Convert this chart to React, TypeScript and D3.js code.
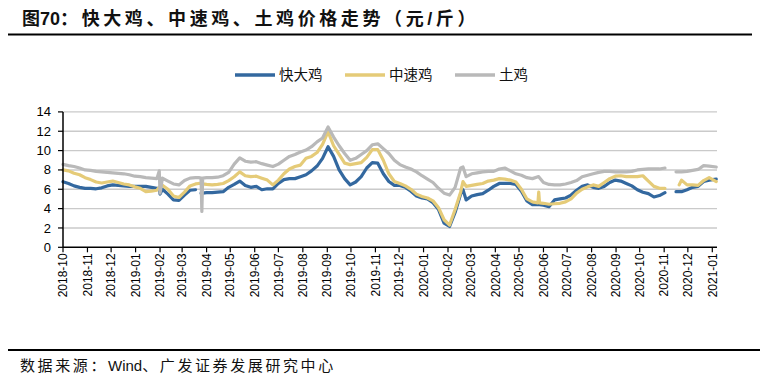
import React from "react";
import * as d3 from "d3";

const dates = [
  "2018-10-01", "2018-10-08", "2018-10-15", "2018-10-22", "2018-10-29", "2018-11-05", "2018-11-12", "2018-11-19",
  "2018-11-26", "2018-12-03", "2018-12-10", "2018-12-17", "2018-12-24", "2018-12-31", "2019-01-07", "2019-01-14",
  "2019-01-21", "2019-01-28", "2019-01-31", "2019-02-01", "2019-02-04", "2019-02-11", "2019-02-18", "2019-02-25",
  "2019-03-04", "2019-03-11", "2019-03-18", "2019-03-22", "2019-03-25", "2019-03-26", "2019-03-27", "2019-04-01",
  "2019-04-08", "2019-04-15", "2019-04-22", "2019-04-29", "2019-05-06", "2019-05-13", "2019-05-20", "2019-05-27",
  "2019-06-03", "2019-06-10", "2019-06-17", "2019-06-24", "2019-07-01", "2019-07-08", "2019-07-15", "2019-07-22",
  "2019-07-29", "2019-08-05", "2019-08-12", "2019-08-19", "2019-08-26", "2019-09-02", "2019-09-09", "2019-09-16",
  "2019-09-23", "2019-09-30", "2019-10-07", "2019-10-14", "2019-10-21", "2019-10-28", "2019-11-04", "2019-11-11",
  "2019-11-18", "2019-11-25", "2019-12-02", "2019-12-09", "2019-12-16", "2019-12-23", "2019-12-30", "2020-01-06",
  "2020-01-13", "2020-01-20", "2020-01-27", "2020-02-03", "2020-02-10", "2020-02-17", "2020-02-20", "2020-02-24",
  "2020-03-02", "2020-03-09", "2020-03-16", "2020-03-23", "2020-03-30", "2020-04-06", "2020-04-13", "2020-04-20",
  "2020-04-27", "2020-05-04", "2020-05-11", "2020-05-18", "2020-05-25", "2020-05-26", "2020-05-27", "2020-06-01",
  "2020-06-08", "2020-06-15", "2020-06-22", "2020-06-29", "2020-07-06", "2020-07-13", "2020-07-20", "2020-07-27",
  "2020-08-03", "2020-08-10", "2020-08-17", "2020-08-24", "2020-08-31", "2020-09-07", "2020-09-14", "2020-09-21",
  "2020-09-28", "2020-10-05", "2020-10-12", "2020-10-19", "2020-10-26", "2020-11-02", "2020-11-09", "2020-11-16",
  "2020-11-20", "2020-11-23", "2020-11-30", "2020-12-07", "2020-12-14", "2020-12-21", "2020-12-28", "2021-01-06",
];

// 快大鸡
const kuaida = [
  6.78, 6.6, 6.35, 6.2, 6.1, 6.1, 6.05, 6.15,
  6.35, 6.45, 6.4, 6.35, 6.3, 6.3, 6.3, 6.3,
  6.2, 6.1, 6.1, 5.5, 6.0, 5.5, 4.9, 4.85,
  5.4, 5.9, 5.95, null, 5.6, 5.6, 5.6, 5.65,
  5.65, 5.7, 5.75, 6.2, 6.5, 6.85, 6.4, 6.2,
  6.3, 5.95, 6.05, 6.05, 6.6, 7.0, 7.1, 7.1,
  7.3, 7.5, 7.9, 8.4, 9.2, 10.4, 9.4, 8.0,
  7.1, 6.45, 6.75, 7.3, 8.2, 8.75, 8.7, 7.6,
  6.8, 6.4, 6.4, 6.2, 5.8, 5.3, 5.1, 5.0,
  4.6, 3.9, 2.5, 2.15, 3.6, 5.5, 5.95, 4.9,
  5.3, 5.45, 5.55, 5.9, 6.3, 6.6, 6.6, 6.6,
  6.5, 5.8, 4.8, 4.4, 4.4, 4.4, 4.4, 4.35,
  4.2, 4.9, 5.0, 5.1, 5.4, 5.9, 6.3, 6.45,
  6.2, 6.1, 6.3, 6.7, 6.95, 6.85, 6.6, 6.35,
  5.95, 5.7, 5.55, 5.2, 5.35, 5.65, null, 5.75,
  5.75, 5.75, 5.95, 6.2, 6.3, 6.8, 6.95, 7.05,
];

// 中速鸡
const zhongsu = [
  8.0, 7.9, 7.65, 7.5, 7.2, 7.0, 6.75, 6.65,
  6.75, 6.85, 6.7, 6.55, 6.45, 6.25, 6.1, 5.75,
  5.8, 5.9, 6.2, 6.3, 6.4, 6.0, 5.3, 5.15,
  5.7, 6.35, 6.55, 6.6, 6.6, 6.6, 6.55, 6.5,
  6.45, 6.5, 6.6, 6.9, 7.3, 7.8, 7.4, 7.3,
  7.35, 7.15, 6.95, 6.45, 6.95, 7.6, 8.1, 8.35,
  8.5, 9.2, 9.4, 9.8, 10.65, 11.95, 10.5, 9.6,
  8.7, 8.55, 8.65, 8.75, 9.3, 10.1, 10.1, 9.0,
  7.6, 6.8, 6.6, 6.35, 6.0, 5.5, 5.25, 5.1,
  4.8, 4.1, 2.85, 2.3, 3.9, 5.7, 6.8, 6.3,
  6.4, 6.5, 6.6, 6.85, 6.95, 7.1, 7.05, 6.95,
  6.75, 6.0, 5.0, 4.7, 4.6, 5.7, 4.6, 4.55,
  4.45, 4.5, 4.55, 4.7, 5.0, 5.6, 6.0, 6.25,
  6.45, 6.3, 6.7, 7.1, 7.35, 7.4, 7.3, 7.3,
  7.3, 7.4, 6.85, 6.3, 6.1, 6.1, null, null,
  6.45, 6.95, 6.45, 6.45, 6.4, 6.9, 7.2, 6.8,
];

// 土鸡
const tuji = [
  8.58, 8.45, 8.35, 8.2, 8.0, 7.95, 7.85, 7.8,
  7.75, 7.7, 7.65, 7.6, 7.5, 7.35, 7.3, 7.2,
  7.15, 7.1, 7.9, 5.6, 7.15, 6.85, 6.55, 6.45,
  6.9, 7.15, 7.2, 7.2, 7.15, 3.7, 7.15, 7.2,
  7.2, 7.25, 7.4, 7.75, 8.6, 9.25, 8.9, 8.8,
  8.85, 8.65, 8.5, 8.35, 8.6, 9.0, 9.4, 9.6,
  9.85, 10.05, 10.4, 10.9, 11.3, 12.45, 11.4, 10.5,
  9.7, 9.0, 9.2, 9.6, 10.0, 10.6, 10.7, 10.2,
  9.7, 9.0, 8.55, 8.3, 8.1, 7.8, 7.4, 7.05,
  6.7, 6.1, 5.6, 5.4, 6.2, 8.2, 8.3, 7.3,
  7.6, 7.7, 7.8, 7.85, 7.85, 8.1, 8.2, 7.9,
  7.6, 7.45, 7.2, 7.1, 7.3, 7.3, 7.2, 6.7,
  6.5, 6.45, 6.45, 6.55, 6.7, 6.9, 7.3, 7.45,
  7.6, 7.75, 7.85, 7.85, 7.8, 7.8, 7.8, 7.85,
  8.0, 8.05, 8.1, 8.1, 8.1, 8.2, null, 7.8,
  7.8, 7.8, 7.85, 7.95, 8.05, 8.45, 8.4, 8.3,
];

const seriesNames = ["快大鸡", "中速鸡", "土鸡"];
const seriesColors = ["#33689f", "#e5cb78", "#b9b9b9"];
const yTicks = [0, 2, 4, 6, 8, 10, 12, 14];
const monthTicks = [
  "2018-10", "2018-11", "2018-12", "2019-01", "2019-02", "2019-03", "2019-04", "2019-05", "2019-06", "2019-07",
  "2019-08", "2019-09", "2019-10", "2019-11", "2019-12", "2020-01", "2020-02", "2020-03", "2020-04", "2020-05",
  "2020-06", "2020-07", "2020-08", "2020-09", "2020-10", "2020-11", "2020-12", "2021-01",
];

const parse = d3.timeParse("%Y-%m-%d");
const parseMonth = d3.timeParse("%Y-%m");

export default function App() {
  const W = 770, H = 384;
  const left = 63, right = 712.3, axisEnd = 717;
  const top = 111.9, bottom = 247.3;

  const x = d3.scaleTime()
    .domain([parseMonth("2018-10")!, parseMonth("2021-01")!])
    .range([left, right]);
  const y = d3.scaleLinear().domain([0, 14]).range([bottom, top]);

  const allSeries = [kuaida, zhongsu, tuji];
  const line = d3.line<{ d: Date; v: number | null }>()
    .defined(p => p.v != null)
    .x(p => x(p.d))
    .y(p => y(p.v as number));

  const paths = allSeries.map((vals, i) => {
    const pts = dates.map((s, j) => ({ d: parse(s)!, v: vals[j] }));
    return (
      <path key={i} d={line(pts) || ""} fill="none" stroke={seriesColors[i]}
        strokeWidth={3.2} strokeLinejoin="round" strokeLinecap="round" />
    );
  });

  const sans = "'Liberation Sans', Arial, sans-serif";
  const cjk = "'Noto Sans CJK SC', sans-serif";

  const legendX = [235, 345, 455];

  return (
    <svg width={W} height={H} style={{ position: "absolute", left: 0, top: 0, background: "#fff" }}>
      <text x={22} y={25} fontSize={18} fontWeight="bold" fill="#111"
        style={{ fontFamily: `'Liberation Sans', 'Noto Sans CJK SC', sans-serif` }}>
        <tspan>图</tspan>
        <tspan>70</tspan>
        <tspan letterSpacing={3.6}>：快大鸡、中速鸡、土鸡价格走势（元/斤）</tspan>
      </text>
      <line x1={8} x2={752} y1={34.5} y2={34.5} stroke="#000" strokeWidth={2} />

      {/* legend */}
      {seriesNames.map((n, i) => (
        <g key={n}>
          <line x1={legendX[i]} x2={legendX[i] + 40} y1={75} y2={75} stroke={seriesColors[i]} strokeWidth={3.5} />
          <text x={legendX[i] + 44} y={75} dy="0.35em" fontSize={14.5} fill="#111" style={{ fontFamily: cjk }}>{n}</text>
        </g>
      ))}

      {/* grid */}
      {yTicks.filter(t => t > 0).map(t => (
        <line key={t} x1={left} x2={axisEnd} y1={y(t)} y2={y(t)} stroke="#cacaca" strokeWidth={1.4} />
      ))}

      {paths}

      {/* y axis */}
      <line x1={left} x2={left} y1={top} y2={bottom} stroke="#000" strokeWidth={1.5} />
      {yTicks.map(t => (
        <g key={t}>
          <line x1={left - 5} x2={left} y1={y(t)} y2={y(t)} stroke="#000" strokeWidth={1.2} />
          <text x={51} y={y(t)} dy="0.35em" textAnchor="end" fontSize={13} fill="#000" style={{ fontFamily: sans }}>{t}</text>
        </g>
      ))}

      {/* x axis */}
      <line x1={left} x2={axisEnd} y1={bottom} y2={bottom} stroke="#000" strokeWidth={1.5} />
      {monthTicks.map(m => {
        const xx = x(parseMonth(m)!);
        return (
          <g key={m}>
            <line x1={xx} x2={xx} y1={bottom} y2={bottom + 5} stroke="#000" strokeWidth={1.2} />
            <text transform={`translate(${xx},${bottom + 6}) rotate(-90)`} textAnchor="end" dy="0.35em"
              fontSize={12} fill="#000" style={{ fontFamily: sans }}>{m}</text>
          </g>
        );
      })}

      <line x1={8} x2={760} y1={350} y2={350} stroke="#000" strokeWidth={2} />
      <text x={20} y={366} dy="0.35em" fontSize={15} fill="#111" style={{ fontFamily: cjk }}>
        <tspan letterSpacing={2.6}>数据来源：</tspan>
        <tspan style={{ fontFamily: sans }}>Wind</tspan>
        <tspan letterSpacing={2.6}>、广发证券发展研究中心</tspan>
      </text>
    </svg>
  );
}
